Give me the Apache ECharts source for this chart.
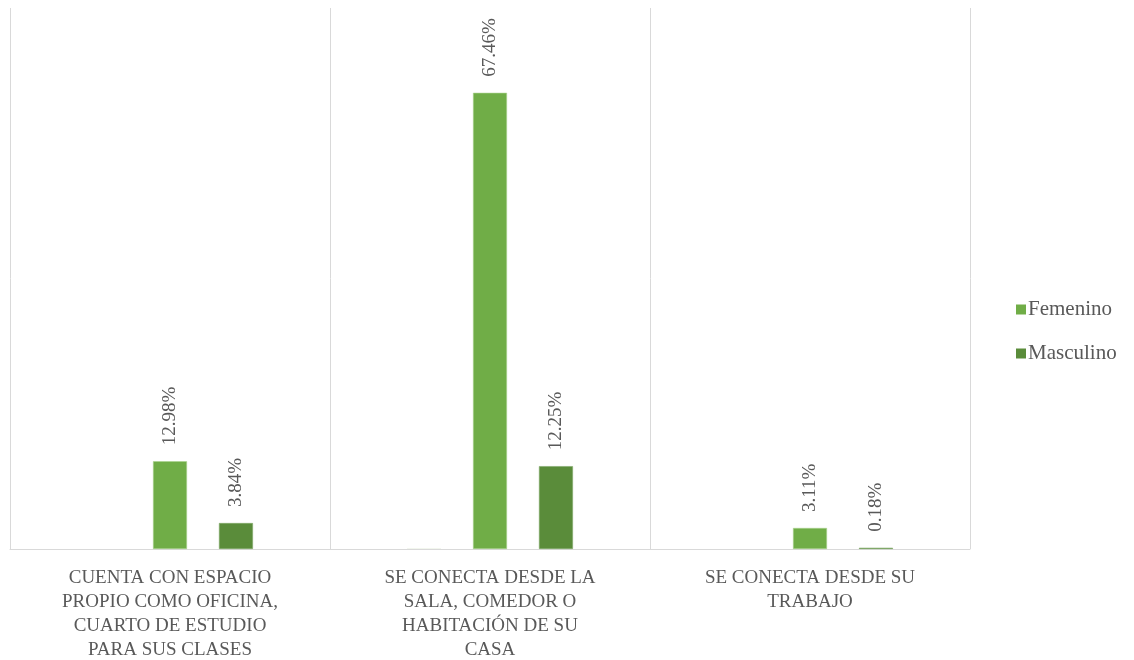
<!DOCTYPE html>
<html>
<head>
<meta charset="utf-8">
<script src="https://cdn.jsdelivr.net/npm/echarts@6/dist/echarts.min.js"></script>
<style>html,body{margin:0;padding:0;background:#fff;}#c{width:1134px;height:660px;}</style>
</head>
<body>
<div id="c"></div>
<script>
var categories = [
  'CUENTA CON ESPACIO\nPROPIO COMO OFICINA,\nCUARTO DE ESTUDIO\nPARA SUS CLASES',
  'SE CONECTA DESDE LA\nSALA, COMEDOR O\nHABITACIÓN DE SU\nCASA',
  'SE CONECTA DESDE SU\nTRABAJO'
];
var otherValues = [null, 0.05, null];
var femeninoValues = [12.98, 67.46, 3.11];
var masculinoValues = [3.84, 12.25, 0.18];

var serif = '"Liberation Serif", "Times New Roman", serif';
var labelCfg = {
  show: true,
  position: 'top',
  rotate: 90,
  align: 'left',
  verticalAlign: 'middle',
  distance: 16,
  color: '#595959',
  fontFamily: serif,
  fontSize: 19,
  formatter: function (p) { return p.value.toFixed(2) + '%'; }
};

var chart = echarts.init(document.getElementById('c'));
chart.setOption({
  animation: false,
  grid: { left: 10, right: 164, top: 8, bottom: 111, containLabel: false, outerBoundsMode: 'none' },
  legend: {
    data: ['Femenino', 'Masculino'],
    orient: 'vertical',
    left: 1011,
    top: 294,
    itemWidth: 10,
    itemHeight: 10,
    itemGap: 23,
    icon: 'rect',
    itemStyle: { borderWidth: 0 },
    textStyle: { fontFamily: serif, fontSize: 21, color: '#595959', padding: [0, 0, 0, -3] }
  },
  xAxis: {
    type: 'category',
    data: categories,
    axisLine: { show: true, lineStyle: { color: '#d9d9d9', width: 1 } },
    axisTick: { show: false },
    splitLine: { show: true, lineStyle: { color: '#d9d9d9', width: 1 } },
    axisLabel: {
      interval: 0,
      margin: 17,
      color: '#595959',
      fontFamily: serif,
      fontSize: 19,
      lineHeight: 24
    }
  },
  yAxis: {
    type: 'value',
    min: 0,
    max: 80,
    show: false,
    splitLine: { show: false }
  },
  series: [
    {
      name: 'Otro',
      type: 'bar',
      data: otherValues,
      barWidth: 34,
      barGap: '94%',
      itemStyle: { color: '#c9d9bd' }
    },
    {
      name: 'Femenino',
      type: 'bar',
      data: femeninoValues,
      barWidth: 34,
      barGap: '94%',
      itemStyle: { color: '#70ad47', borderColor: '#a9d18e', borderWidth: 0.6 },
      label: labelCfg
    },
    {
      name: 'Masculino',
      type: 'bar',
      data: masculinoValues,
      barWidth: 34,
      barGap: '94%',
      itemStyle: { color: '#5a8c3a', borderColor: '#7fa868', borderWidth: 0.6 },
      label: labelCfg
    }
  ]
});
</script>
</body>
</html>
